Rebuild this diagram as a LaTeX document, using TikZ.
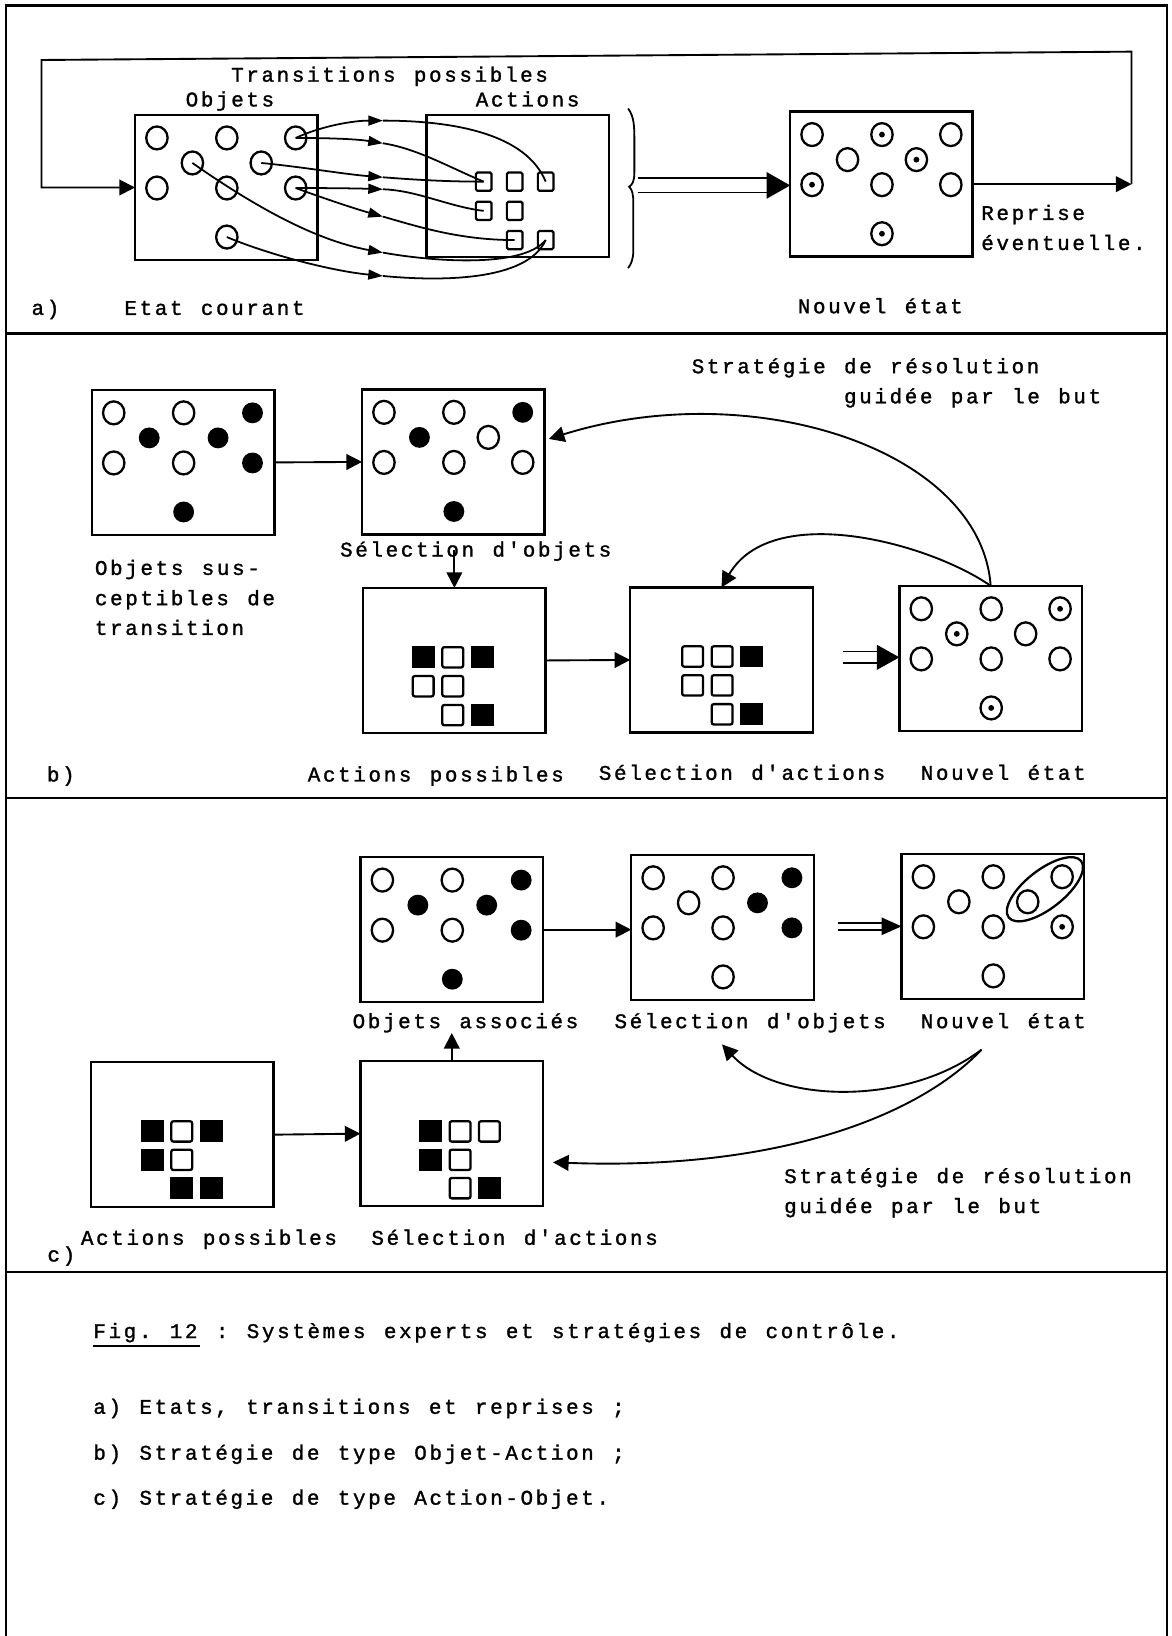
\documentclass[tikz,border=0pt]{standalone}
\usepackage{fontspec}
\setmonofont[LetterSpace=12.75, WordSpace=1.21, FakeBold=1.4]{Liberation Mono}
\usetikzlibrary{arrows.meta,calc,shapes.geometric}

\newcommand\circset[2]{%
  \foreach \t [count=\i] in {#2} {%
    \pgfmathsetmacro\px{{21,88,154,55,121,21,88,154,88}[\i-1]}%
    \pgfmathsetmacro\py{{22,22,22,46,46,70,70,70,117}[\i-1]}%
    \edef\doit{\noexpand\node[\t] (#1-\i) at ($(#1.north west)+(\px,\py)$) {};}%
    \doit
  }%
}
\newcommand\sqset[6]{%
  \foreach \t [count=\i] in {#6} {%
    \pgfmathsetmacro\cc{{0,1,2,0,1,1,2}[\i-1]}%
    \pgfmathsetmacro\rr{{0,0,0,1,1,2,2}[\i-1]}%
    \pgfmathsetmacro\px{#2+#4*\cc}%
    \pgfmathsetmacro\py{#3+#5*\rr}%
    \edef\doit{\noexpand\node[\t] (#1-\i) at ($(#1.north west)+(\px,\py)$) {};}%
    \doit
  }%
}

\tikzset{
  lbl/.style={anchor=base west, inner sep=0pt, outer sep=0pt, font=\ttfamily\fontsize{20}{24}\selectfont},
  frame/.style={line width=2.4},
  panel/.style={draw, line width=2.4, minimum width=175, minimum height=139, anchor=north west, inner sep=0pt, outer sep=0pt},
  co/.style={ellipse, draw, line width=2.2, minimum width=20.5, minimum height=22, inner sep=0pt},
  cf/.style={circle, fill=black, minimum size=20, inner sep=0pt},
  cd/.style={co, path picture={\fill (path picture bounding box.center) circle (2.8);}},
  sqo/.style={rectangle, draw, line width=2.2, rounded corners=2, minimum width=20, minimum height=19.5, inner sep=0pt},
  sqf/.style={rectangle, fill=black, minimum width=22, minimum height=21, inner sep=0pt},
  sqs/.style={rectangle, draw, line width=2.1, rounded corners=1.5, minimum width=15, minimum height=17.5, inner sep=0pt},
  arr/.style={line width=1.8, -{Triangle[length=15,width=15]}},
  conn/.style={line width=1.7},
  midarr/.style={line width=1.7, -{Triangle[length=14,width=9.5]}},
}

\begin{document}
\begin{tikzpicture}[x=1pt,y=-1pt]
\useasboundingbox (0,0) rectangle (1123,1568);

% ---------- outer frame and dividers
\draw[frame] (5.7,1590) -- (5.7,5.5) -- (1118.3,5.5) -- (1118.3,1590);
\draw[frame] (5.7,319.4) -- (1118.3,319.4);
\draw[frame] (5.7,765) -- (1118.3,765);
\draw[frame] (5.7,1219) -- (1118.3,1219);

% ================= a) =================
\node[panel] (objA) at (129.4,110.2) {};
\node[panel, minimum height=136] (actA) at (408.8,110.2) {};
\node[panel] (nouvA) at (757.3,107) {};
\circset{objA}{co,co,co,co,co,co,co,co,co}
\circset{nouvA}{co,cd,co,co,cd,cd,co,co,cd}
\sqset{actA}{54.8}{63.9}{29.7}{28}{sqs,sqs,sqs,sqs,sqs,sqs,sqs}

\coordinate (m1) at (367,115.6);
\coordinate (m2) at (367,137.3);
\coordinate (m3) at (367,169.9);
\coordinate (m4) at (367,181.4);
\coordinate (m5) at (367,207.6);
\coordinate (m6) at (367,242.1);
\coordinate (m7) at (367,264.5);

\draw[midarr] (objA-3.center) .. controls +(26.6,-12.2) and +(-27,0) .. (m1);
\draw[conn] (m1) .. controls +(73,0) and +(-18,-44) .. (actA-3.center);
\draw[midarr] (objA-3.center) .. controls +(26.6,0) and +(-27,-4.3) .. (m2);
\draw[conn] (m2) .. controls +(33,5.2) and +(-33.6,-14) .. (actA-1.center);
\draw[midarr] (objA-5.center) .. controls +(39.6,3.8) and +(-37,-2.9) .. (m3);
\draw[conn] (m3) .. controls +(33,2.6) and +(-33.6,0) .. (actA-1.center);
\draw[midarr] (objA-8.center) .. controls +(26.6,0) and +(-27,-0.9) .. (m4);
\draw[conn] (m4) .. controls +(33,1.1) and +(-33.6,-4) .. (actA-4.center);
\draw[midarr] (objA-8.center) .. controls +(26.6,9.8) and +(-27,-7.6) .. (m5);
\draw[conn] (m5) .. controls +(33,9.4) and +(-53.3,0) .. (actA-6.center);
\draw[midarr] (objA-4.center) .. controls +(55.6,38.8) and +(-67,-12.1) .. (m6);
\draw[conn] (m6) .. controls +(43,7.8) and +(-23,28) .. (actA-7.center);
\draw[midarr] (objA-9.center) .. controls +(42.6,17.8) and +(-47,-4.5) .. (m7);
\draw[conn] (m7) .. controls +(53,5.1) and +(-18,40) .. (actA-7.center);

% feedback loop
\coordinate (loopTR) at (1084.5,49.5);
\coordinate (loopTL) at (39.8,57.5);
\draw[arr] (nouvA.east) -- (nouvA.east -| loopTR) coordinate (loopR);
\draw[arr] (loopR) -- (loopTR) -- (loopTL) -- (loopTL |- objA.west) -- (objA.west);

% brace
\draw[conn] (602,104) .. controls (608,112) and (608,122) .. (608,135) -- (608,165)
  .. controls (608,174) and (606,177) .. (603,179) .. controls (606,182) and (607,186) .. (607,195)
  -- (607,240) .. controls (607,248) and (605,253) .. (602,257);

% double arrow a
\draw[conn] ($(nouvA.west)+(-146,-5.6)$) -- ($(nouvA.west)+(-21,-5.6)$);
\draw[conn] ($(nouvA.west)+(-146,8.1)$) -- ($(nouvA.west)+(-21,8.1)$);
\fill ($(nouvA.west)+(0,1.2)$) -- ($(nouvA.west)+(-22.5,-11.6)$) -- ($(nouvA.west)+(-22.5,14)$) -- cycle;

\node[lbl] (tTrans) at (221.6,78.3) {Transitions possibles};
\node[lbl] (tObj) at (178,102) {Objets};
\node[lbl] (tAct) at (456,102) {Actions};
\node[lbl] (tA) at (30.3,301.8) {a)};
\node[lbl] (tEtat) at (119.3,301.8) {Etat courant};
\node[lbl] (tNouvA) at (764.7,300.2) {Nouvel état};
\node[lbl] (tRep1) at (940.5,210.8) {Reprise};
\node[lbl] (tRep2) at (940.5,239.6) {éventuelle.};

% ================= b) =================
\node[panel] (b1) at (88,373.7) {};
\node[panel] (b2) at (347,373.2) {};
\node[panel] (b3) at (348,563.5) {};
\node[panel] (b4) at (604,563) {};
\node[panel] (b5) at (862,561.5) {};
\circset{b1}{co,co,cf,cf,cf,co,co,cf,cf}
\circset{b2}{co,co,cf,cf,co,co,co,co,cf}
\circset{b5}{co,co,cd,cd,co,co,co,co,cd}
\sqset{b3}{57.6}{66.5}{28.3}{27.7}{sqf,sqo,sqf,sqo,sqo,sqo,sqf}
\sqset{b4}{59.8}{66.2}{28.3}{27.7}{sqo,sqo,sqf,sqo,sqo,sqo,sqf}

\draw[arr] (b1.east) -- (b2.west);
\coordinate (dStart) at (435.5,527);
\draw[arr] (dStart) -- (b3.north);
\draw[arr] (b3.east) -- (b4.west);
\draw[conn] ($(b5.west)+(-54,-6.6)$) -- ($(b5.west)+(-20,-6.6)$);
\draw[conn] ($(b5.west)+(-54,4.6)$) -- ($(b5.west)+(-20,4.6)$);
\fill ($(b5.west)+(0,-1)$) -- ($(b5.west)+(-21.5,-13)$) -- ($(b5.west)+(-21.5,11)$) -- cycle;

\coordinate (bTip) at ($(b2.east)+(4,-22)$);
\draw[arr] (b5.north) .. controls (940,430) and (720,360) .. (bTip);
\draw[arr] (b5.north) .. controls (890,520) and (740,480) .. (b4.north);

\node[lbl] (tStratB1) at (663,357.7) {Stratégie de résolution};
\node[lbl] (tStratB2) at (809,386.5) {guidée par le but};
\node[lbl] (tSelObjB) at (326,533.4) {Sélection d'objets};
\node[lbl] (tSus1) at (91,551) {Objets sus-};
\node[lbl] (tSus2) at (91,580) {ceptibles de};
\node[lbl] (tSus3) at (91,608.5) {transition};
\node[lbl] (tB) at (45,749) {b)};
\node[lbl] (tActPB) at (295,749) {Actions possibles};
\node[lbl] (tSelActB) at (574,747.4) {Sélection d'actions};
\node[lbl] (tNouvB) at (882.5,747.4) {Nouvel état};

% ================= c) =================
\node[panel] (cA) at (345.5,821.5) {};
\node[panel] (cB) at (605,819.3) {};
\node[panel] (cC) at (864,818.3) {};
\node[panel] (cD) at (87,1018) {};
\node[panel] (cE) at (345.5,1017) {};
\circset{cA}{co,co,cf,cf,cf,co,co,cf,cf}
\circset{cB}{co,co,cf,co,cf,co,co,cf,co}
\circset{cC}{co,co,co,co,co,co,co,cd,co}
\sqset{cD}{58.9}{66.4}{28.3}{27.2}{sqf,sqo,sqf,sqf,sqo,sqf,sqf}
\sqset{cE}{67.5}{67.4}{28}{27.2}{sqf,sqo,sqo,sqf,sqo,sqo,sqf}

\coordinate (ellc) at ($(cC-3)!0.5!(cC-5)$);
\draw[line width=2.2, rotate around={38:(ellc)}] (ellc) ellipse (44 and 18.5);

\draw[arr] (cA.east) -- (cA.east -| cB.west);
\draw[conn] ($(cC.west)+(-61,-3.5)$) -- ($(cC.west)+(-18,-3.5)$);
\draw[conn] ($(cC.west)+(-61,3.5)$) -- ($(cC.west)+(-18,3.5)$);
\fill (cC.west) -- ($(cC.west)+(-19,-8.5)$) -- ($(cC.west)+(-19,8.5)$) -- cycle;
\draw[arr] (cD.east) -- (cE.west);
\coordinate (upTip) at (433,990);
\draw[arr] (cE.north) -- (upTip);

\coordinate (cStart) at (940.7,1006);
\coordinate (cTip1) at (692,1001);
\coordinate (cTip2) at (530,1114);
\draw[arr] (cStart) .. controls (870,1060) and (745,1058) .. (cTip1);
\draw[arr] (cStart) .. controls (880,1070) and (745,1122) .. (cTip2);

\node[lbl] (tObjAssoc) at (338,985.4) {Objets associés};
\node[lbl] (tSelObjC) at (589,985.4) {Sélection d'objets};
\node[lbl] (tNouvC) at (882.5,985.4) {Nouvel état};
\node[lbl] (tStratC1) at (751.6,1133.9) {Stratégie de résolution};
\node[lbl] (tStratC2) at (751.6,1162.6) {guidée par le but};
\node[lbl] (tActPC) at (77.6,1193) {Actions possibles};
\node[lbl] (tSelActC) at (356,1193) {Sélection d'actions};
\node[lbl] (tC) at (45.5,1209) {c)};

% ================= caption =================
\node[lbl] (cap0) at (89.5,1282.4) {Fig. 12 : Systèmes experts et stratégies de contrôle.};
\draw[line width=1.8] ($(cap0.base west)+(0,7.5)$) -- ++(102.5,0);
\node[lbl] (cap1) at (89.5,1355) {a) Etats, transitions et reprises ;};
\node[lbl] (cap2) at (89.5,1399) {b) Stratégie de type Objet-Action ;};
\node[lbl] (cap3) at (89.5,1442.1) {c) Stratégie de type Action-Objet.};
\end{tikzpicture}
\end{document}
